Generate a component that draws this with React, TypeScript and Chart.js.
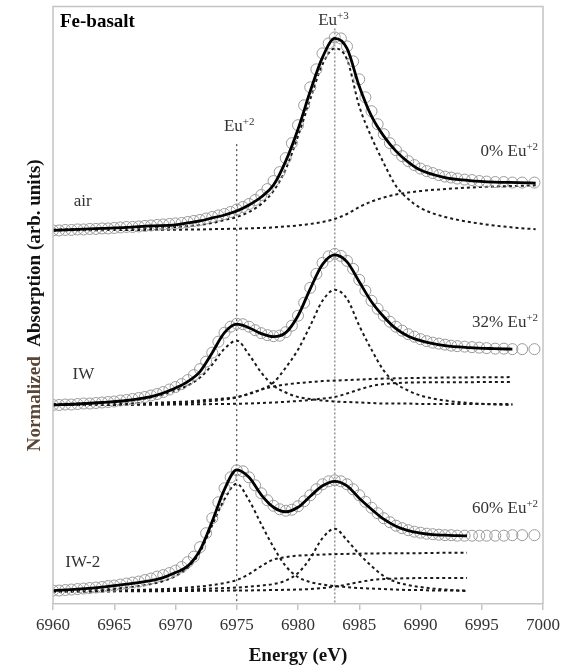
import React, { useEffect, useRef } from "react";
import { Chart, registerables } from "chart.js";

Chart.register(...registerables);

// ---------- axis ----------
const X_MIN = 6960;
const X_MAX = 7000;
const X_STEP = 5;
const Y_MIN = 0;
const Y_MAX = 5.99;

// ---------- measured data (circles), shared energy grid ----------
const DATA_E = [
  6960, 6960.5, 6961, 6961.5, 6962, 6962.5, 6963, 6963.5, 6964, 6964.5,
  6965, 6965.5, 6966, 6966.5, 6967, 6967.5, 6968, 6968.5, 6969, 6969.5,
  6970, 6970.5, 6971, 6971.5, 6972, 6972.5, 6973, 6973.5, 6974, 6974.5,
  6975, 6975.5, 6976, 6976.5, 6977, 6977.5, 6978, 6978.5, 6979, 6979.5,
  6980, 6980.5, 6981, 6981.5, 6982, 6982.5, 6983, 6983.5, 6984, 6984.5,
  6985, 6985.5, 6986, 6986.5, 6987, 6987.5, 6988, 6988.5, 6989, 6989.5,
  6990, 6990.5, 6991, 6991.5, 6992, 6992.5, 6993,
  6993.6, 6994.2, 6994.8, 6995.4, 6996.1, 6996.8, 6997.5, 6998.3, 6999.3,
];

const AIR_DATA = [
  3.745, 3.745, 3.75, 3.75, 3.755, 3.755, 3.76, 3.76, 3.765, 3.765,
  3.77, 3.775, 3.78, 3.78, 3.785, 3.79, 3.795, 3.8, 3.805, 3.81,
  3.815, 3.82, 3.83, 3.84, 3.85, 3.865, 3.88, 3.895, 3.91, 3.93,
  3.955, 3.98, 4.01, 4.05, 4.1, 4.16, 4.24, 4.33, 4.47, 4.62,
  4.8, 5.0, 5.18, 5.36, 5.52, 5.62, 5.68, 5.67, 5.59, 5.44,
  5.26, 5.08, 4.94, 4.81, 4.71, 4.62, 4.55, 4.49, 4.44, 4.4,
  4.365, 4.34, 4.32, 4.3, 4.285, 4.275, 4.265,
  4.255, 4.25, 4.24, 4.235, 4.23, 4.23, 4.225, 4.225, 4.225,
];

const IW_DATA = [
  1.995, 1.995, 2.0, 2.0, 2.005, 2.01, 2.01, 2.015, 2.02, 2.025,
  2.03, 2.04, 2.045, 2.055, 2.065, 2.075, 2.09, 2.105, 2.125, 2.15,
  2.175, 2.205, 2.245, 2.295, 2.355, 2.43, 2.52, 2.63, 2.72, 2.78,
  2.81, 2.805, 2.78, 2.745, 2.715, 2.695, 2.685, 2.69, 2.725, 2.79,
  2.89, 3.02, 3.17, 3.31, 3.42, 3.485, 3.51, 3.49, 3.44, 3.36,
  3.25, 3.14, 3.04, 2.96, 2.89, 2.83, 2.78, 2.74, 2.705, 2.68,
  2.655, 2.635, 2.62, 2.61, 2.6, 2.59, 2.585,
  2.58, 2.575, 2.57, 2.565, 2.56, 2.56, 2.555, 2.555, 2.555,
];

const IW2_DATA = [
  0.135, 0.135, 0.14, 0.145, 0.15, 0.155, 0.16, 0.165, 0.17, 0.18,
  0.185, 0.195, 0.205, 0.215, 0.225, 0.24, 0.255, 0.275, 0.29, 0.31,
  0.335, 0.37, 0.42, 0.475, 0.57, 0.71, 0.86, 1.02, 1.16, 1.27,
  1.34, 1.33, 1.27, 1.19, 1.11, 1.04, 0.985, 0.95, 0.935, 0.945,
  0.98, 1.03, 1.09, 1.15, 1.2, 1.23, 1.24, 1.23, 1.2, 1.15,
  1.09, 1.025, 0.965, 0.91, 0.86, 0.82, 0.785, 0.76, 0.74, 0.725,
  0.715, 0.705, 0.7, 0.695, 0.69, 0.69, 0.685,
  0.685, 0.685, 0.685, 0.685, 0.685, 0.685, 0.69, 0.69, 0.69,
];

// ---------- fits and components: air ----------
const AIR_E = [
  6960, 6962, 6964, 6966, 6968,
  6970, 6971, 6972, 6973, 6974, 6975, 6976, 6977, 6978, 6979, 6980,
  6981, 6982, 6983, 6984, 6985, 6986, 6987, 6988, 6989, 6990,
  6992, 6994, 6996, 6998, 6999.4,
];
const AIR_FIT = [
  3.745, 3.755, 3.765, 3.775, 3.79,
  3.8, 3.82, 3.84, 3.87, 3.9, 3.94, 4.0, 4.08, 4.2, 4.44, 4.76,
  5.14, 5.48, 5.67, 5.57, 5.19, 4.89, 4.69, 4.54, 4.43, 4.35,
  4.275, 4.245, 4.23, 4.225, 4.22,
];
const AIR_EU3 = [
  3.755, 3.757, 3.76, 3.765, 3.77,
  3.78, 3.79, 3.8, 3.82, 3.85, 3.88, 3.93, 4.01, 4.14, 4.36, 4.69,
  5.06, 5.41, 5.57, 5.46, 4.99, 4.68, 4.42, 4.19, 4.06, 3.97,
  3.88, 3.83, 3.795, 3.77, 3.757,
];
const AIR_STEP = [
  3.745, 3.747, 3.748, 3.75, 3.75,
  3.752, 3.754, 3.755, 3.758, 3.76, 3.762, 3.766, 3.77, 3.775, 3.785, 3.795,
  3.81, 3.83, 3.86, 3.91, 3.98, 4.035, 4.075, 4.105, 4.125, 4.14,
  4.16, 4.175, 4.185, 4.192, 4.197,
];

// ---------- fits and components: IW ----------
const IW_E = [
  6960, 6962, 6964, 6966, 6968,
  6969, 6970, 6971, 6972, 6973, 6974, 6975, 6976, 6977, 6978, 6979,
  6980, 6981, 6982, 6983, 6984, 6985, 6986, 6987, 6988, 6989, 6990,
  6992, 6994, 6996, 6997.5,
];
const IW_FIT = [
  1.995, 2.005, 2.02, 2.04, 2.08,
  2.115, 2.165, 2.23, 2.33, 2.52, 2.72, 2.805, 2.77, 2.71, 2.68, 2.72,
  2.89, 3.16, 3.405, 3.5, 3.43, 3.23, 3.03, 2.88, 2.76, 2.685, 2.64,
  2.59, 2.57, 2.56, 2.555,
];
const IW_EU2 = [
  2.005, 2.01, 2.02, 2.035, 2.07,
  2.1, 2.14, 2.19, 2.27, 2.4, 2.56, 2.64, 2.5, 2.32, 2.19, 2.12,
  2.075, 2.055, 2.04, 2.03, 2.025, 2.02, 2.015, 2.01, 2.01, 2.01, 2.005,
  2.005, 2.005, 2.005, 2.005,
];
const IW_EU3 = [
  2.0, 2.002, 2.005, 2.01, 2.015,
  2.02, 2.025, 2.03, 2.04, 2.05, 2.06, 2.075, 2.105, 2.15, 2.22, 2.37,
  2.55, 2.79, 3.04, 3.15, 3.06, 2.79, 2.55, 2.34, 2.21, 2.14, 2.09,
  2.04, 2.015, 2.0, 1.995,
];
const IW_STEP2 = [
  2.0, 2.0, 2.0, 2.002, 2.005,
  2.007, 2.01, 2.015, 2.025, 2.035, 2.05, 2.07, 2.11, 2.15, 2.18, 2.2,
  2.215, 2.225, 2.235, 2.24, 2.245, 2.25, 2.255, 2.26, 2.262, 2.265, 2.267,
  2.27, 2.272, 2.273, 2.275,
];
const IW_STEP3 = [
  1.995, 1.995, 1.995, 1.996, 1.997,
  1.998, 2.0, 2.001, 2.002, 2.004, 2.005, 2.007, 2.01, 2.015, 2.02, 2.027,
  2.035, 2.045, 2.06, 2.075, 2.11, 2.15, 2.185, 2.205, 2.215, 2.22, 2.222,
  2.223, 2.224, 2.225, 2.225,
];

// ---------- fits and components: IW-2 ----------
const IW2_E = [
  6960, 6962, 6964, 6966, 6968,
  6969, 6970, 6971, 6972, 6973, 6974, 6975, 6976, 6977, 6978, 6979,
  6980, 6981, 6982, 6983, 6984, 6985, 6986, 6987, 6988, 6989, 6990,
  6991, 6992, 6993, 6993.8,
];
const IW2_FIT = [
  0.135, 0.15, 0.17, 0.2, 0.235,
  0.265, 0.315, 0.38, 0.54, 0.83, 1.15, 1.345, 1.27, 1.095, 0.97, 0.925,
  0.97, 1.08, 1.185, 1.23, 1.185, 1.06, 0.95, 0.85, 0.78, 0.735, 0.71,
  0.695, 0.69, 0.685, 0.683,
];
const IW2_EU2 = [
  0.13, 0.135, 0.145, 0.165, 0.2,
  0.23, 0.28, 0.36, 0.52, 0.79, 1.05, 1.205, 1.04, 0.8, 0.57, 0.38,
  0.27, 0.22, 0.195, 0.18, 0.17, 0.16, 0.155, 0.15, 0.145, 0.14, 0.14,
  0.135, 0.135, 0.135, 0.135,
];
const IW2_EU3 = [
  0.125, 0.127, 0.13, 0.132, 0.135,
  0.138, 0.14, 0.145, 0.15, 0.155, 0.16, 0.165, 0.175, 0.185, 0.2, 0.235,
  0.31, 0.46, 0.66, 0.755, 0.64, 0.5, 0.38, 0.28, 0.22, 0.19, 0.17,
  0.155, 0.145, 0.135, 0.13,
];
const IW2_STEP2 = [
  0.13, 0.132, 0.135, 0.14, 0.145,
  0.15, 0.155, 0.165, 0.175, 0.19, 0.21, 0.24, 0.3, 0.38, 0.445, 0.47,
  0.485, 0.49, 0.495, 0.5, 0.502, 0.505, 0.507, 0.508, 0.51, 0.51, 0.51,
  0.512, 0.513, 0.514, 0.515,
];
const IW2_STEP3 = [
  0.125, 0.125, 0.126, 0.127, 0.128,
  0.129, 0.13, 0.131, 0.132, 0.133, 0.134, 0.135, 0.136, 0.138, 0.14, 0.142,
  0.145, 0.15, 0.16, 0.175, 0.195, 0.22, 0.24, 0.25, 0.255, 0.258, 0.26,
  0.26, 0.26, 0.26, 0.26,
];

// ---------- reference energies (vertical markers) ----------
const EU2_ENERGY = 6975;
const EU2_TOP = 4.61;
const EU3_ENERGY = 6983;
const EU3_TOP = 5.77;

// ---------- text annotations ----------
type Note = { text: string; sup: string; x: number; y: number; align: "left" | "center" | "right"; bold?: boolean };
const NOTES: Note[] = [
  { text: "Fe-basalt", sup: "", x: 6960.57, y: 5.78, align: "left", bold: true },
  { text: "Eu", sup: "+3", x: 6982.9, y: 5.8, align: "center" },
  { text: "Eu", sup: "+2", x: 6975.2, y: 4.74, align: "center" },
  { text: "air", sup: "", x: 6961.7, y: 3.99, align: "left" },
  { text: "IW", sup: "", x: 6961.6, y: 2.26, align: "left" },
  { text: "IW-2", sup: "", x: 6961.0, y: 0.37, align: "left" },
  { text: "0% Eu", sup: "+2", x: 6999.6, y: 4.49, align: "right" },
  { text: "32% Eu", sup: "+2", x: 6999.6, y: 2.78, align: "right" },
  { text: "60% Eu", sup: "+2", x: 6999.6, y: 0.91, align: "right" },
];

const X_TITLE = "Energy (eV)";
const Y_TITLE_A = "Normalized";
const Y_TITLE_B = "Absorption (arb. units)";

const SERIF = '"Liberation Serif", "Times New Roman", serif';

const pts = (xs: number[], ys: number[]) => xs.map((x, i) => ({ x, y: ys[i] }));

const fitStyle = {
  borderColor: "#000",
  borderWidth: 2.8,
  pointRadius: 0,
  fill: false,
  cubicInterpolationMode: "monotone" as const,
};
const compStyle = {
  borderColor: "#1a1a1a",
  borderWidth: 2,
  borderDash: [3, 3],
  pointRadius: 0,
  fill: false,
  cubicInterpolationMode: "monotone" as const,
};
const dataStyle = {
  showLine: false,
  pointRadius: 5.5,
  pointStyle: "circle" as const,
  pointBorderColor: "#9a9a9a",
  pointBackgroundColor: "rgba(255,255,255,0)",
  pointBorderWidth: 1,
  borderColor: "#9a9a9a",
  backgroundColor: "rgba(255,255,255,0)",
};

const decorPlugin = {
  id: "decor",
  afterDraw(chart: any) {
    const { ctx, chartArea: a, scales } = chart;
    const xs = scales.x;
    const ys = scales.y;
    ctx.save();
    // frame
    ctx.strokeStyle = "#c4c4c4";
    ctx.lineWidth = 1.5;
    ctx.beginPath();
    ctx.moveTo(a.left, a.bottom);
    ctx.lineTo(a.left, a.top);
    ctx.lineTo(a.right, a.top);
    ctx.lineTo(a.right, a.bottom);
    ctx.stroke();

    // annotations
    ctx.textBaseline = "alphabetic";
    for (const n of NOTES) {
      const mainFont = (n.bold ? "bold 19px " : "17px ") + SERIF;
      const supFont = "11px " + SERIF;
      ctx.font = mainFont;
      const w1 = ctx.measureText(n.text).width;
      ctx.font = supFont;
      const w2 = n.sup ? ctx.measureText(n.sup).width : 0;
      const total = w1 + w2;
      const px = xs.getPixelForValue(n.x);
      const py = ys.getPixelForValue(n.y);
      let x0 = px;
      if (n.align === "center") x0 = px - total / 2;
      if (n.align === "right") x0 = px - total;
      ctx.textAlign = "left";
      ctx.fillStyle = n.bold ? "#000" : "#333";
      ctx.font = mainFont;
      ctx.fillText(n.text, x0, py);
      if (n.sup) {
        ctx.font = supFont;
        ctx.fillText(n.sup, x0 + w1, py - 6);
      }
    }

    // x title
    ctx.font = "bold 19px " + SERIF;
    ctx.fillStyle = "#111";
    ctx.textAlign = "center";
    ctx.fillText(X_TITLE, (a.left + a.right) / 2, 661);

    // y title (two colours)
    ctx.save();
    ctx.translate(35, (a.top + a.bottom) / 2);
    ctx.rotate(-Math.PI / 2);
    ctx.font = "bold 19px " + SERIF;
    ctx.textBaseline = "middle";
    ctx.textAlign = "left";
    const wa = ctx.measureText(Y_TITLE_A).width;
    const wg = ctx.measureText("  ").width;
    const wb = ctx.measureText(Y_TITLE_B).width;
    const start = -(wa + wg + wb) / 2;
    ctx.fillStyle = "#5a4636";
    ctx.fillText(Y_TITLE_A, start, 0);
    ctx.fillStyle = "#111";
    ctx.fillText(Y_TITLE_B, start + wa + wg, 0);
    ctx.restore();

    ctx.restore();
  },
};

export default function App() {
  const canvasRef = useRef<HTMLCanvasElement | null>(null);

  useEffect(() => {
    document.body.style.margin = "0";
    const canvas = canvasRef.current;
    if (!canvas) return;

    const datasets: any[] = [
      { label: "air fit", data: pts(AIR_E, AIR_FIT), ...fitStyle },
      { label: "IW fit", data: pts(IW_E, IW_FIT), ...fitStyle },
      { label: "IW-2 fit", data: pts(IW2_E, IW2_FIT), ...fitStyle },
      { label: "air data", data: pts(DATA_E, AIR_DATA), ...dataStyle },
      { label: "IW data", data: pts(DATA_E, IW_DATA), ...dataStyle },
      { label: "IW-2 data", data: pts(DATA_E, IW2_DATA), ...dataStyle },
      { label: "air Eu3", data: pts(AIR_E, AIR_EU3), ...compStyle },
      { label: "air step", data: pts(AIR_E, AIR_STEP), ...compStyle },
      { label: "IW Eu2", data: pts(IW_E, IW_EU2), ...compStyle },
      { label: "IW Eu3", data: pts(IW_E, IW_EU3), ...compStyle },
      { label: "IW step2", data: pts(IW_E, IW_STEP2), ...compStyle },
      { label: "IW step3", data: pts(IW_E, IW_STEP3), ...compStyle },
      { label: "IW-2 Eu2", data: pts(IW2_E, IW2_EU2), ...compStyle },
      { label: "IW-2 Eu3", data: pts(IW2_E, IW2_EU3), ...compStyle },
      { label: "IW-2 step2", data: pts(IW2_E, IW2_STEP2), ...compStyle },
      { label: "IW-2 step3", data: pts(IW2_E, IW2_STEP3), ...compStyle },
      {
        label: "Eu2 ref",
        data: [
          { x: EU2_ENERGY, y: EU2_TOP },
          { x: EU2_ENERGY, y: Y_MIN },
        ],
        borderColor: "#222",
        borderWidth: 1,
        borderDash: [2, 3],
        pointRadius: 0,
        tension: 0,
      },
      {
        label: "Eu3 ref",
        data: [
          { x: EU3_ENERGY, y: EU3_TOP },
          { x: EU3_ENERGY, y: Y_MIN },
        ],
        borderColor: "#9a9a9a",
        borderWidth: 1.6,
        borderDash: [2, 2],
        pointRadius: 0,
        tension: 0,
      },
    ];

    const chart = new Chart(canvas, {
      type: "line",
      data: { datasets },
      plugins: [decorPlugin],
      options: {
        animation: false,
        responsive: false,
        devicePixelRatio: 1,
        layout: { padding: { left: 53, right: 33, top: 5, bottom: 0 } },
        plugins: { legend: { display: false }, tooltip: { enabled: false } },
        events: [],
        scales: {
          x: {
            type: "linear",
            min: X_MIN,
            max: X_MAX,
            afterFit: (scale: any) => {
              scale.height = 65;
            },
            ticks: {
              stepSize: X_STEP,
              color: "#333",
              font: { family: SERIF, size: 17 },
              padding: 5,
              maxRotation: 0,
              autoSkip: false,
              callback: (v: any) => String(v),
            },
            grid: {
              display: true,
              drawOnChartArea: false,
              drawTicks: true,
              tickLength: 6,
              color: "#c4c4c4",
              lineWidth: 1.5,
            },
            border: { display: true, color: "#c4c4c4", width: 1.5 },
          },
          y: {
            type: "linear",
            display: false,
            min: Y_MIN,
            max: Y_MAX,
          },
        },
      },
    });
    return () => chart.destroy();
  }, []);

  return (
    <div style={{ width: 576, height: 669, background: "#fff" }}>
      <canvas ref={canvasRef} width={576} height={669} style={{ display: "block", width: 576, height: 669 }} />
    </div>
  );
}
